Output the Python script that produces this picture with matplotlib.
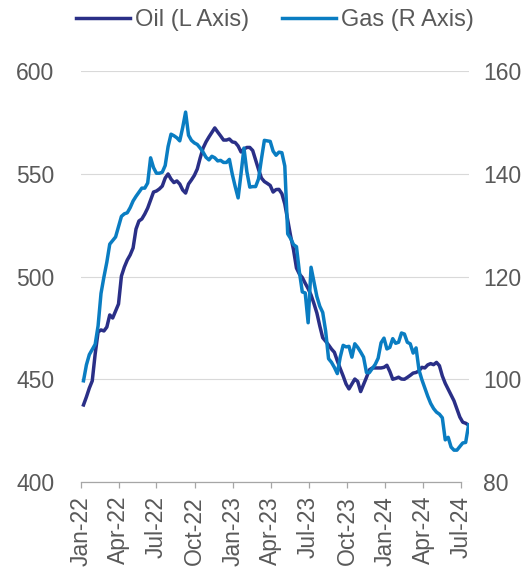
import pandas as pd
import matplotlib.pyplot as plt
import matplotlib.dates as mdates

plt.rcParams['font.family'] = ['Liberation Sans', 'DejaVu Sans']

# weekly series
start_date = "2022-01-07"

oil = [437.5, 441.4, 445.7, 449.2, 462.3, 473.0, 474.0, 473.5, 475.4, 481.3,
       479.8, 483.2, 486.6, 500.2, 504.6, 508.0, 510.5, 513.9, 523.1, 527.0,
       528.0, 530.4, 533.3, 537.2, 541.1, 541.6, 542.6, 544.0, 547.9, 549.9,
       547.4, 545.7, 546.5, 545.0, 542.1, 540.6, 545.0, 547.0, 549.2, 552.3,
       557.7, 562.5, 565.5, 567.9, 570.1, 572.3, 570.3, 568.4, 566.4, 566.4,
       566.9, 565.5, 565.2, 563.5, 560.6, 562.0, 562.8, 562.8, 561.3, 556.7,
       552.1, 547.9, 546.2, 545.3, 544.3, 541.1, 542.3, 542.4, 540.3, 535.3,
       527.5, 519.7, 512.9, 504.1, 501.2, 499.5, 496.7, 494.1, 491.0, 486.8,
       482.2, 475.9, 470.2, 468.5, 466.7, 464.7, 463.1, 459.0, 455.2, 451.6,
       447.7, 445.3, 447.7, 450.1, 448.9, 444.0, 447.4, 450.9, 454.6, 455.5,
       455.5, 455.5, 455.5, 455.8, 456.8, 453.8, 450.0, 450.4, 451.0, 450.1,
       450.0, 450.9, 451.9, 453.0, 453.3, 454.1, 455.8, 455.5, 457.0, 457.6,
       457.1, 458.2, 456.6, 451.6, 448.0, 445.2, 442.3, 439.5, 435.5, 431.6,
       429.1, 428.6, 427.7]

gas = [99.7, 102.8, 104.8, 105.8, 106.8, 110.4, 116.7, 119.9, 122.8, 126.3,
       127.0, 127.7, 129.7, 131.7, 132.2, 132.4, 133.4, 134.7, 135.6, 136.4,
       137.2, 137.2, 138.2, 143.1, 141.2, 140.1, 140.1, 140.3, 141.6, 145.3,
       147.7, 147.4, 147.0, 146.4, 149.0, 152.0, 147.5, 146.5, 146.0, 145.7,
       145.0, 144.2, 143.2, 142.7, 143.4, 143.1, 142.5, 142.6, 142.2, 142.2,
       142.8, 139.9, 137.5, 135.3, 140.0, 145.0, 140.4, 137.4, 137.5, 137.5,
       139.0, 142.9, 146.5, 146.4, 146.3, 144.4, 143.6, 144.2, 144.1, 141.5,
       128.3, 127.4, 126.2, 125.8, 120.9, 117.0, 116.8, 111.0, 121.8, 118.9,
       116.1, 114.2, 113.0, 109.4, 104.0, 103.3, 102.3, 101.1, 104.3, 106.6,
       106.3, 106.4, 104.3, 106.9, 106.2, 105.3, 104.3, 101.3, 101.3, 102.1,
       102.9, 104.1, 107.1, 108.0, 105.9, 106.2, 107.9, 107.0, 107.2, 109.0,
       108.8, 107.2, 106.9, 105.1, 106.1, 101.8, 99.9, 98.3, 96.7, 95.3,
       94.3, 93.6, 93.2, 92.5, 88.2, 88.7, 86.8, 86.2, 86.2, 86.9,
       87.6, 87.7, 91.1]

dates = pd.date_range(start_date, periods=len(oil), freq="7D")

left_ticks = [400, 450, 500, 550, 600]
right_ticks = [80, 100, 120, 140, 160]
quarter_ticks = pd.date_range("2022-01-01", "2024-07-01", freq="QS")

OIL_COLOR = '#2A2F87'
GAS_COLOR = '#0A7DC2'
TEXT_COLOR = '#595959'

fig = plt.figure(figsize=(5.31, 5.69), dpi=100)
ax = fig.add_axes([81 / 531, 87 / 569, 388 / 531, 411 / 569])
ax2 = ax.twinx()

l1, = ax.plot(dates, oil, color=OIL_COLOR, linewidth=2.5, label='Oil (L Axis)', zorder=3)
l2, = ax2.plot(dates, gas, color=GAS_COLOR, linewidth=2.5, label='Gas (R Axis)', zorder=3)

ax.set_ylim(400, 600)
ax2.set_ylim(80, 160)
ax.set_yticks(left_ticks)
ax2.set_yticks(right_ticks)
ax.set_xlim(pd.Timestamp("2022-01-01"), pd.Timestamp("2024-07-20"))

ax.grid(axis='y', color='#D9D9D9', linewidth=0.8)
ax.set_axisbelow(True)

for a in (ax, ax2):
    for s in ('top', 'left', 'right', 'bottom'):
        a.spines[s].set_visible(False)

ax.spines['bottom'].set_visible(True)
ax.spines['bottom'].set_color('#A6A6A6')
ax.spines['bottom'].set_linewidth(0.9)
ax.spines['bottom'].set_bounds(mdates.date2num(quarter_ticks[0]),
                               mdates.date2num(quarter_ticks[-1]))

ax.set_xticks(quarter_ticks)
ax.xaxis.set_major_formatter(mdates.DateFormatter('%b-%y'))
ax.tick_params(axis='x', rotation=90, length=4, width=0.9, color='#A6A6A6',
               labelsize=16.5, labelcolor=TEXT_COLOR, pad=6)
ax.tick_params(axis='y', length=0, labelsize=16.5, labelcolor=TEXT_COLOR, pad=19)
ax2.tick_params(axis='y', length=0, labelsize=16.5, labelcolor=TEXT_COLOR, pad=10)

fig.legend(handles=[l1, l2], loc='center', bbox_to_anchor=(275 / 531, 1 - 20 / 569),
           ncol=2, frameon=False, fontsize=17, labelcolor=TEXT_COLOR,
           handlelength=2.3, handletextpad=0.2, columnspacing=1.4, borderpad=0)

fig.savefig('out.png', dpi=100)
